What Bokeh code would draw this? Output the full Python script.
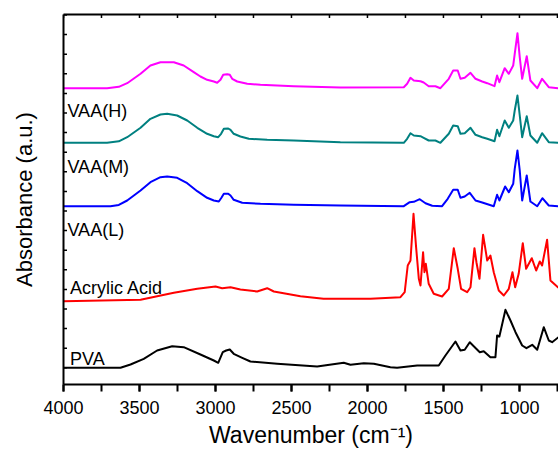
from bokeh.plotting import figure
from bokeh.models import Range1d, LinearAxis, SingleIntervalTicker, FixedTicker, Label
from bokeh.embed import file_html
from bokeh.resources import INLINE

# ---------------- data (wavenumber in cm^-1, absorbance in a.u. relative to each baseline) ---------
names = ["PVA", "Acrylic Acid", "VAA(L)", "VAA(M)", "VAA(H)"]
colors = ["#000000", "#FF0000", "#0000FF", "#008080", "#FF00FF"]
offsets = [0.0, 66.6, 161.6, 225.0, 279.6]

wn_pva = [4000, 3625, 3559, 3472, 3384, 3285, 3209, 3099, 3011, 2982,
          2952, 2930, 2906, 2880, 2824, 2770, 2594, 2331, 2156, 2112,
          2024, 1958, 1849, 1805, 1673, 1531, 1487, 1421, 1388, 1360,
          1327, 1294, 1261, 1235, 1191, 1158, 1147, 1132, 1092, 1059,
          1026, 982, 954, 916, 883, 840, 807, 785, 743]
ab_pva = [0, 0, 3.3, 9, 17.3, 21.6, 20.6, 13.3, 7.3, 5,
          15.6, 17.3, 18.3, 14, 10, 6.3, 4, 1.3, 5, 3,
          4.6, 4, 0.6, 0, 2.3, 2.3, 12.3, 26.3, 17.3, 18,
          25.6, 20.6, 15.6, 16.6, 10.6, 10.6, 32.3, 31.3, 58, 47.3,
          35.6, 22.3, 19.6, 23, 18, 40.6, 27.3, 25.6, 30.6]

wn_aa = [4000, 3493, 3274, 3120, 3000, 2956, 2901, 2836, 2726, 2660,
         2616, 2441, 2289, 1980, 1783, 1755, 1735, 1717, 1697, 1680,
         1662, 1651, 1634, 1625, 1616, 1597, 1564, 1509, 1465, 1432,
         1406, 1384, 1344, 1322, 1296, 1283, 1263, 1239, 1212, 1191,
         1169, 1136, 1103, 1070, 1046, 1028, 1005, 978, 956, 919,
         890, 866, 851, 818, 796, 743]
ab_aa = [0, 1.4, 8.4, 12.4, 14.7, 13, 14, 11.7, 9.7, 13,
         9.7, 5, 2.4, 2.4, 4, 9, 35.7, 40.7, 87.4, 54,
         22.4, 15.7, 49, 29, 37.4, 17.4, 7.4, 4.7, 12.4, 53,
         32.4, 12.4, 9, 14, 53, 39, 22.4, 66.4, 40.7, 45.7,
         29, 10.7, 5.7, 12.4, 29, 14, 27.4, 58, 32.4, 43,
         30.7, 39.7, 35.7, 61.4, 20.7, 13.4]

wn_l = [4000, 3691, 3636, 3581, 3493, 3428, 3362, 3318, 3252, 3186, 3120,
        3055, 3011, 2978, 2961, 2945, 2916, 2901, 2880, 2824, 2704,
        2485, 2178, 1761, 1722, 1695, 1656, 1618, 1574, 1509, 1472,
        1436, 1406, 1388, 1360, 1327, 1289, 1245, 1169, 1147, 1132,
        1094, 1070, 1041, 1031, 1013, 998, 982, 952, 928, 883,
        849, 807, 743]
ab_l = [0, 0, 1.3, 5.7, 15.7, 24, 29, 29.7, 28.4, 23, 15,
        8.4, 5.7, 4.7, 8.4, 12.4, 12.4, 10.7, 6.4, 3.4, 2.4,
        1.4, 0.7, 0, 4, 4.4, 7, 3, 0.4, 0, 7.4,
        16.4, 16.4, 8.4, 9.7, 13.4, 5.7, 3.7, 0, 11.4, 5.7,
        19.7, 14, 22.4, 37.4, 55.7, 35.7, 5.7, 30.7, 4.7, 0,
        8, 0.7, 0]

wn_m = [4000, 3713, 3636, 3581, 3493, 3428, 3362, 3318, 3252, 3186, 3120,
        3055, 3011, 2982, 2963, 2945, 2916, 2901, 2880, 2836, 2781,
        2660, 2485, 2178, 1761, 1739, 1717, 1695, 1651, 1630, 1597,
        1553, 1520, 1465, 1436, 1406, 1388, 1360, 1322, 1289, 1245,
        1212, 1164, 1147, 1132, 1097, 1070, 1041, 1031, 1013, 998,
        982, 952, 928, 883, 851, 807, 743]
ab_m = [0, 0, 1.5, 5.6, 15, 24, 28.3, 29, 27.3, 22.3, 15,
        9, 6.6, 5.6, 9, 14, 14.3, 13, 9, 6.3, 4,
        3, 2.3, 0.6, 0, 4, 9.6, 7.3, 6.6, 5, 2.3,
        2.3, 0, 9, 17.3, 16.6, 9, 9.6, 15, 8, 5.6,
        4, 1.6, 13, 6.6, 22.3, 15, 22.3, 32.3, 47.3, 27.3,
        5.6, 26.6, 7.3, 0, 9.6, 0.6, 0]

wn_h = [4000, 3713, 3636, 3581, 3493, 3428, 3362, 3274, 3209, 3143, 3099,
        3055, 3011, 2989, 2967, 2949, 2923, 2906, 2890, 2857, 2791,
        2704, 2485, 2178, 1761, 1739, 1717, 1695, 1651, 1630, 1597,
        1553, 1520, 1465, 1436, 1406, 1388, 1360, 1322, 1289, 1245,
        1212, 1164, 1147, 1132, 1097, 1070, 1041, 1031, 1013, 998,
        982, 952, 928, 883, 851, 807, 743]
ab_h = [0, 0, 1.4, 5, 14.4, 22.7, 26, 26, 22.7, 16, 11.7,
        8.4, 6.7, 5.4, 8.4, 13.4, 14, 13.4, 9.4, 6.7, 4.4,
        3.4, 2, 0.7, 1, 4.4, 10.4, 7.7, 7, 5.7, 2,
        2, 0, 9.4, 17.7, 17.7, 9.4, 10.4, 15.4, 9.4, 6.7,
        5, 2, 12.7, 6, 20, 14.4, 22.7, 34.4, 55, 31,
        9.4, 32, 7.7, 0, 9.4, 1, 0]

x_tick_interval = 500
x_minor_interval = 250
y_tick_step = 19.6
n_y_ticks = 19

series = [(wn_pva, ab_pva), (wn_aa, ab_aa), (wn_l, ab_l), (wn_m, ab_m), (wn_h, ab_h)]

# label anchor positions (data units)
label_pos = [(3957, 9.0), (3957, 80.0), (3974, 137.8), (3974, 201.3), (3974, 256.8)]

FONT = "Liberation Sans"
X0, X1 = 4000, 743
Y0, Y1 = -16.7, 353.3
PX_PER_WN = 495 / (X0 - X1)

p = figure(width=558, height=457, output_backend="svg", toolbar_location=None,
           x_range=Range1d(X0, X1), y_range=Range1d(Y0, Y1),
           x_axis_location=None, y_axis_location=None,
           min_border_left=63, min_border_right=0, min_border_top=14, min_border_bottom=73)
p.outline_line_color = None
p.xgrid.visible = False
p.ygrid.visible = False
p.background_fill_color = "white"
p.border_fill_color = "white"

# bottom axis
xb = LinearAxis(ticker=SingleIntervalTicker(interval=x_tick_interval, num_minor_ticks=2),
                axis_label="Wavenumber (cm\u207b\u00b9)")
xb.axis_line_width = 2
xb.major_tick_line_width = 2
xb.minor_tick_line_width = 2
xb.major_tick_in = 0
xb.major_tick_out = 7
xb.minor_tick_in = 0
xb.minor_tick_out = 7
xb.major_label_text_font = FONT
xb.major_label_text_font_size = "18px"
xb.major_label_text_color = "black"
xb.major_label_standoff = 9
xb.axis_label_text_font = FONT
xb.axis_label_text_font_size = "23px"
xb.axis_label_text_font_style = "normal"
xb.axis_label_text_color = "black"
xb.axis_label_standoff = 5
p.add_layout(xb, "below")

# top axis (line only; inward ticks drawn below)
xt = LinearAxis(ticker=FixedTicker(ticks=[], minor_ticks=[]))
xt.axis_line_width = 2
xt.major_tick_line_color = None
xt.minor_tick_line_color = None
p.add_layout(xt, "above")

# left axis (line + title; inward ticks drawn below)
yl = LinearAxis(ticker=FixedTicker(ticks=[], minor_ticks=[]), axis_label="Absorbance (a.u.)")
yl.axis_line_width = 2
yl.major_tick_line_color = None
yl.minor_tick_line_color = None
yl.axis_label_text_font = FONT
yl.axis_label_text_font_size = "22px"
yl.axis_label_text_font_style = "normal"
yl.axis_label_text_color = "black"
yl.axis_label_standoff = 27
p.add_layout(yl, "left")

# inward tick marks on top and left edges
top_ticks = list(range(X0, int(X1) - 1, -x_minor_interval))
p.segment(x0=top_ticks, y0=[Y1] * len(top_ticks), x1=top_ticks, y1=[Y1 - 3.5] * len(top_ticks),
          line_color="black", line_width=1.5)
left_ticks = [y_tick_step * k for k in range(n_y_ticks)]
tick_len_x = 3.5 / PX_PER_WN
p.segment(x0=[X0] * len(left_ticks), y0=left_ticks, x1=[X0 - tick_len_x] * len(left_ticks), y1=left_ticks,
          line_color="black", line_width=1.5)

for (wn, ab), off, col in zip(series, offsets, colors):
    p.line(wn, [v + off for v in ab], line_color=col, line_width=2, line_join="round")

for name, (lx, ly) in zip(names, label_pos):
    p.add_layout(Label(x=lx, y=ly, text=name, text_font=FONT, text_font_size="18px",
                       text_color="black", text_baseline="alphabetic"))

open("out.html", "w").write(file_html(p, INLINE))
